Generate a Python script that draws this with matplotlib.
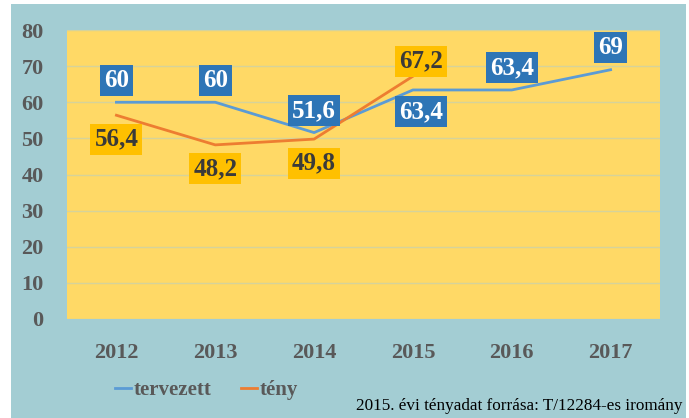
import matplotlib
matplotlib.use("Agg")
import matplotlib.pyplot as plt
from matplotlib.patches import Rectangle

years = ['2012', '2013', '2014', '2015', '2016', '2017']
tervezett = [60, 60, 51.6, 63.4, 63.4, 69]
teny = [56.4, 48.2, 49.8, 67.2]
terv_labels = ['60', '60', '51,6', '63,4', '63,4', '69']
teny_labels = ['56,4', '48,2', '49,8', '67,2']
# label above (+1) or below (-1) the point
terv_side = [1, 1, 1, -1, 1, 1]
teny_side = [-1, -1, -1, 1]

BLUE = '#5b9bd5'
ORANGE = '#ed7d31'
BOX_BLUE = '#2e75b6'
BOX_YELLOW = '#ffc000'
GREY = '#595959'
SERIF = ['Liberation Serif', 'DejaVu Serif']

fig = plt.figure(figsize=(6.89, 4.18), dpi=100)
fig.patch.set_facecolor('white')
fig.patches.append(Rectangle((11 / 689, 0), 675 / 689, 414 / 418,
                             transform=fig.transFigure, facecolor='#a3cdd3',
                             edgecolor='none', zorder=-10))

ax = fig.add_axes([67 / 689, 99 / 418, 593 / 689, 289 / 418])
ax.set_facecolor('#ffd966')
x = list(range(len(years)))

ax.plot(x, tervezett, color=BLUE, lw=2, label='tervezett', zorder=3)
ax.plot(x[:len(teny)], teny, color=ORANGE, lw=2, label='tény', zorder=3)

box = 'square,pad=0.16'
for i, (v, t, s) in enumerate(zip(tervezett, terv_labels, terv_side)):
    dx = 8 if s < 0 else 0
    ax.annotate(t, (i, v), xytext=(dx, 22 * s), textcoords='offset pixels',
                ha='center', va='center', fontsize=18, fontweight='bold',
                family=SERIF, color='white', zorder=5,
                bbox=dict(boxstyle=box, fc=BOX_BLUE, ec='none'))

for i, (v, t, s) in enumerate(zip(teny, teny_labels, teny_side)):
    dx = 8 if s > 0 else 0
    dy = 15 if s > 0 else -24
    ax.annotate(t, (i, v), xytext=(dx, dy), textcoords='offset pixels',
                ha='center', va='center', fontsize=18, fontweight='bold',
                family=SERIF, color='#3a3a3a', zorder=5,
                bbox=dict(boxstyle=box, fc=BOX_YELLOW, ec='none'))

ax.set_xlim(-0.5, 5.5)
ax.set_ylim(0, 80)
ax.set_yticks(range(0, 81, 10))
ax.set_xticks(x)
ax.set_xticklabels(years)
ax.grid(axis='y', color='#d6d39a', lw=1)
ax.set_axisbelow(True)
for sp in ax.spines.values():
    sp.set_visible(False)
ax.tick_params(length=0)
ax.tick_params(axis='y', pad=17)
ax.tick_params(axis='x', pad=17)
for lab in ax.get_yticklabels() + ax.get_xticklabels():
    lab.set_fontfamily(SERIF)
    lab.set_fontweight('bold')
    lab.set_fontsize(16)
    lab.set_color(GREY)

leg = fig.legend(loc='center left', bbox_to_anchor=(96 / 689, 1 - 390 / 418),
                 ncol=2, frameon=False, handlelength=0.8, handletextpad=0.1,
                 columnspacing=1.4, prop=dict(family=SERIF, weight='bold', size=15))
for t in leg.get_texts():
    t.set_color(GREY)

fig.text(683 / 689, 4 / 418, '2015. évi tényadat forrása: T/12284-es iromány',
         ha='right', va='bottom', fontsize=12.3, family=SERIF, color='black')

fig.savefig('out.png', dpi=100)
